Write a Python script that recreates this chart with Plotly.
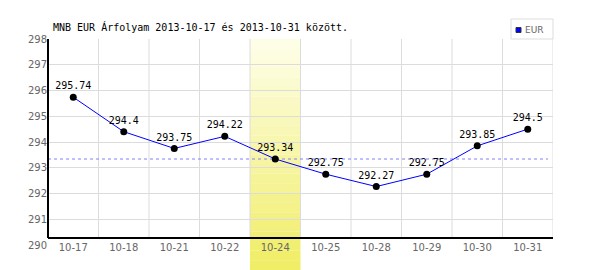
import plotly.graph_objects as go

dates = ["10-17", "10-18", "10-21", "10-22", "10-24", "10-25", "10-28", "10-29", "10-30", "10-31"]
rates = [295.74, 294.4, 293.75, 294.22, 293.34, 292.75, 292.27, 292.75, 293.85, 294.5]
labels = ["295.74", "294.4", "293.75", "294.22", "293.34", "292.75", "292.27", "292.75", "293.85", "294.5"]
ref_rate = 293.34
highlight = "10-24"
y_ticks = [290, 291, 292, 293, 294, 295, 296, 297, 298]
series_name = "EUR"
title_text = "MNB EUR Árfolyam 2013-10-17 és 2013-10-31 között."

Y_MIN, Y_MAX = 290, 298
PLOT_W, PLOT_H = 505, 206
L, B = 48, 25
axis_level = Y_MIN + 7 * (Y_MAX - Y_MIN) / PLOT_H  # black x-axis line sits 7px above 290


def px_x(p):
    return (p - L) / PLOT_W


def px_y(p):
    return (270 - B - p) / PLOT_H


fig = go.Figure()

fig.add_trace(go.Scatter(
    x=dates, y=rates, mode="lines+markers+text", name=series_name,
    text=labels, textposition="top center",
    textfont=dict(family="DejaVu Sans Mono", size=10, color="#000000"),
    line=dict(color="#0000ff", width=1),
    marker=dict(color="#000000", size=7),
    showlegend=False, cliponaxis=False,
))

shapes = []
# highlighted column with vertical gradient (above grid, below data)
hi = dates.index(highlight)
n = 24
top_c = (254, 254, 234)
bot_c = (240, 237, 100)
y_top = 1.0
y_bot = px_y(270)
for i in range(n):
    t = (i + 0.5) / n
    c = tuple(int(round(top_c[k] + (bot_c[k] - top_c[k]) * t)) for k in range(3))
    y0 = y_top + (y_bot - y_top) * i / n
    y1 = y_top + (y_bot - y_top) * (i + 1) / n
    shapes.append(dict(type="rect", xref="x", yref="paper", x0=hi - 0.5, x1=hi + 0.5,
                       y0=y1, y1=y0 + 0.0005, fillcolor="rgb(%d,%d,%d)" % c,
                       line=dict(width=0), layer="between"))
# vertical grid lines at category boundaries
for k in range(1, len(dates) + 1):
    shapes.append(dict(type="line", xref="x", yref="y", x0=k - 0.5, x1=k - 0.5,
                       y0=axis_level, y1=Y_MAX, line=dict(color="#dcdcdc", width=1), layer="between"))
# reference dashed line
shapes.append(dict(type="line", xref="x", yref="y", x0=-0.5, x1=len(dates) - 0.6,
                   y0=ref_rate, y1=ref_rate, line=dict(color="#8080ff", width=1, dash="3px,3px"),
                   layer="between"))
# left axis line
shapes.append(dict(type="line", xref="paper", yref="y", x0=0, x1=0,
                   y0=axis_level, y1=Y_MAX, line=dict(color="#000000", width=2), layer="above"))
# legend box
shapes.append(dict(type="rect", xref="paper", yref="paper", x0=px_x(511), x1=px_x(553),
                   y0=px_y(39), y1=px_y(19), fillcolor="#ffffff",
                   line=dict(color="#dddddd", width=1), layer="above"))
shapes.append(dict(type="rect", xref="paper", yref="paper", x0=px_x(516), x1=px_x(521),
                   y0=px_y(32.5), y1=px_y(27.5), fillcolor="#0000ff",
                   line=dict(color="#333333", width=1), layer="above"))

annotations = [dict(text=series_name, xref="paper", yref="paper", x=px_x(523), y=px_y(30),
                    xanchor="left", yanchor="middle", showarrow=False,
                    font=dict(family="DejaVu Sans", size=9, color="#666666"))]

fig.update_layout(
    width=600, height=270,
    margin=dict(l=L, r=600 - L - PLOT_W, t=270 - B - PLOT_H, b=B),
    paper_bgcolor="#ffffff", plot_bgcolor="rgba(0,0,0,0)",
    title=dict(text=title_text, x=53 / 600, xanchor="left", y=1 - 27 / 270, yanchor="middle",
               font=dict(family="DejaVu Sans Mono", size=10, color="#000000")),
    shapes=shapes,
    annotations=annotations,
    showlegend=False,
    xaxis=dict(type="category", range=[-0.5, len(dates) - 0.5],
               anchor="free", position=7 / PLOT_H,
               showline=True, linecolor="#000000", linewidth=2,
               showgrid=False, zeroline=False, ticks="",
               tickfont=dict(family="DejaVu Sans", size=10, color="#666666")),
    yaxis=dict(range=[Y_MIN, Y_MAX], tickvals=y_ticks, ticks="",
               showgrid=True, gridcolor="#dcdcdc", gridwidth=1,
               showline=False, zeroline=False,
               tickfont=dict(family="DejaVu Sans", size=10, color="#666666")),
)

fig.write_html("out.html")
